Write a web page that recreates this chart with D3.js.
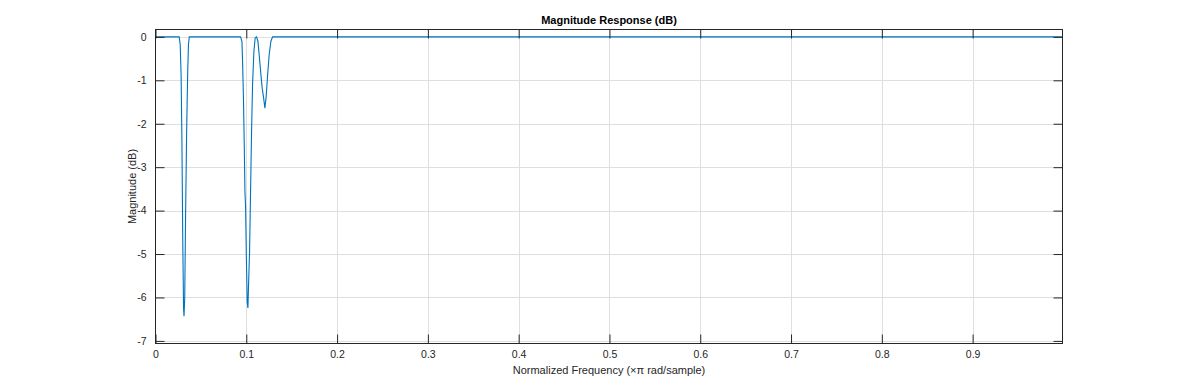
<!DOCTYPE html>
<html>
<head>
<meta charset="utf-8">
<script src="https://cdn.jsdelivr.net/npm/d3@7"></script>
<style>
  body { margin: 0; background: #fff; }
  svg { display: block; font-family: "Liberation Sans", Arial, Helvetica, sans-serif; }
</style>
</head>
<body>
<div id="chart"></div>
<script>
// frequency (x pi rad/sample) and magnitude (dB)
var freqs = [0, 0.0261, 0.0272, 0.0282, 0.0291, 0.0300, 0.0309, 0.0314, 0.0322, 0.0331, 0.0343, 0.0354, 0.0363, 0.0372,
  0.0937, 0.0952, 0.0959, 0.0968, 0.0977, 0.0985, 0.0992, 0.1001, 0.1010, 0.1018, 0.1025, 0.1036, 0.1047, 0.1058,
  0.1069, 0.1084, 0.1098, 0.1113, 0.1128, 0.1142, 0.1161, 0.1175, 0.1191, 0.1205, 0.1219, 0.1235, 0.1252, 0.1271,
  0.1290, 0.999];
var magDb = [0, 0, -0.18, -0.87, -2.41, -4.63, -6.25, -6.43, -6.0, -4.17, -2.18, -0.87, -0.18, 0,
  0, -0.1, -0.56, -1.33, -2.4, -3.56, -3.9, -5.1, -6.1, -6.24, -5.7, -4.95, -3.56, -2.18,
  -1.1, -0.33, -0.02, 0, -0.1, -0.41, -0.87, -1.18, -1.41, -1.64, -1.37, -0.87, -0.41, -0.1,
  0, 0];

var xTicks = [0, 0.1, 0.2, 0.3, 0.4, 0.5, 0.6, 0.7, 0.8, 0.9];
var yTicks = [0, -1, -2, -3, -4, -5, -6, -7];

var data = freqs.map(function(f, i) { return {f: f, db: magDb[i]}; });

var width = 1200, height = 386;
var pL = 155.5, pR = 1062.5, pT = 29.5, pB = 343.5;
var axisColor = "#262626";

var svg = d3.select("#chart").append("svg")
  .attr("width", width)
  .attr("height", height);

var x = d3.scaleLinear().domain([0, 0.999]).range([pL, pR]);
var y = d3.scaleLinear().domain([-7.06, 0.17]).range([pB, pT]);

// grid
svg.append("g")
  .selectAll("line")
  .data(xTicks.slice(1))
  .enter().append("line")
    .attr("x1", function(d) { return Math.round(x(d)) + 0.5; })
    .attr("x2", function(d) { return Math.round(x(d)) + 0.5; })
    .attr("y1", pT).attr("y2", pB)
    .attr("stroke", "#dfdfdf");
svg.append("g")
  .selectAll("line")
  .data(yTicks)
  .enter().append("line")
    .attr("y1", function(d) { return Math.round(y(d)) + 0.5; })
    .attr("y2", function(d) { return Math.round(y(d)) + 0.5; })
    .attr("x1", pL).attr("x2", pR)
    .attr("stroke", "#dfdfdf");

// the curve
svg.append("path")
  .datum(data)
  .attr("fill", "none")
  .attr("stroke", "#0072BD")
  .attr("stroke-width", 1.1)
  .attr("d", d3.line()
    .x(function(d) { return x(d.f); })
    .y(function(d) { return y(d.db); }));

// box
svg.append("rect")
  .attr("x", pL).attr("y", pT)
  .attr("width", pR - pL).attr("height", pB - pT)
  .attr("fill", "none")
  .attr("stroke", axisColor);

// axes with inward ticks (bottom + top, left + right)
function styleAxis(g) {
  g.select(".domain").remove();
  g.selectAll(".tick line").attr("stroke", axisColor);
  g.selectAll(".tick text").attr("fill", axisColor).attr("font-size", 10.5)
    .attr("font-family", "Liberation Sans, Arial, sans-serif");
}

var fmt = function(d) { return String(d); };

svg.append("g")
  .attr("transform", "translate(0," + pB + ")")
  .call(d3.axisBottom(x).tickValues(xTicks).tickSizeInner(-9).tickSizeOuter(0).tickPadding(7).tickFormat(fmt))
  .call(styleAxis);
svg.append("g")
  .attr("transform", "translate(0," + pT + ")")
  .call(d3.axisTop(x).tickValues(xTicks).tickSizeInner(-9).tickSizeOuter(0).tickFormat(""))
  .call(styleAxis);
svg.append("g")
  .attr("transform", "translate(" + pL + ",0)")
  .call(d3.axisLeft(y).tickValues(yTicks).tickSizeInner(-9).tickSizeOuter(0).tickPadding(9).tickFormat(fmt))
  .call(styleAxis);
svg.append("g")
  .attr("transform", "translate(" + pR + ",0)")
  .call(d3.axisRight(y).tickValues(yTicks).tickSizeInner(-9).tickSizeOuter(0).tickFormat(""))
  .call(styleAxis);

// labels
svg.append("text")
  .attr("x", (pL + pR) / 2).attr("y", 24)
  .attr("text-anchor", "middle")
  .attr("font-size", 11).attr("font-weight", "bold")
  .attr("fill", "#000")
  .text("Magnitude Response (dB)");

svg.append("text")
  .attr("x", (pL + pR) / 2).attr("y", 374)
  .attr("text-anchor", "middle")
  .attr("font-size", 11)
  .attr("fill", axisColor)
  .text("Normalized Frequency (\u00d7\u03c0 rad/sample)");

svg.append("text")
  .attr("transform", "translate(136," + (pT + pB) / 2 + ") rotate(-90)")
  .attr("text-anchor", "middle")
  .attr("font-size", 11)
  .attr("fill", axisColor)
  .text("Magnitude (dB)");
</script>
</body>
</html>
